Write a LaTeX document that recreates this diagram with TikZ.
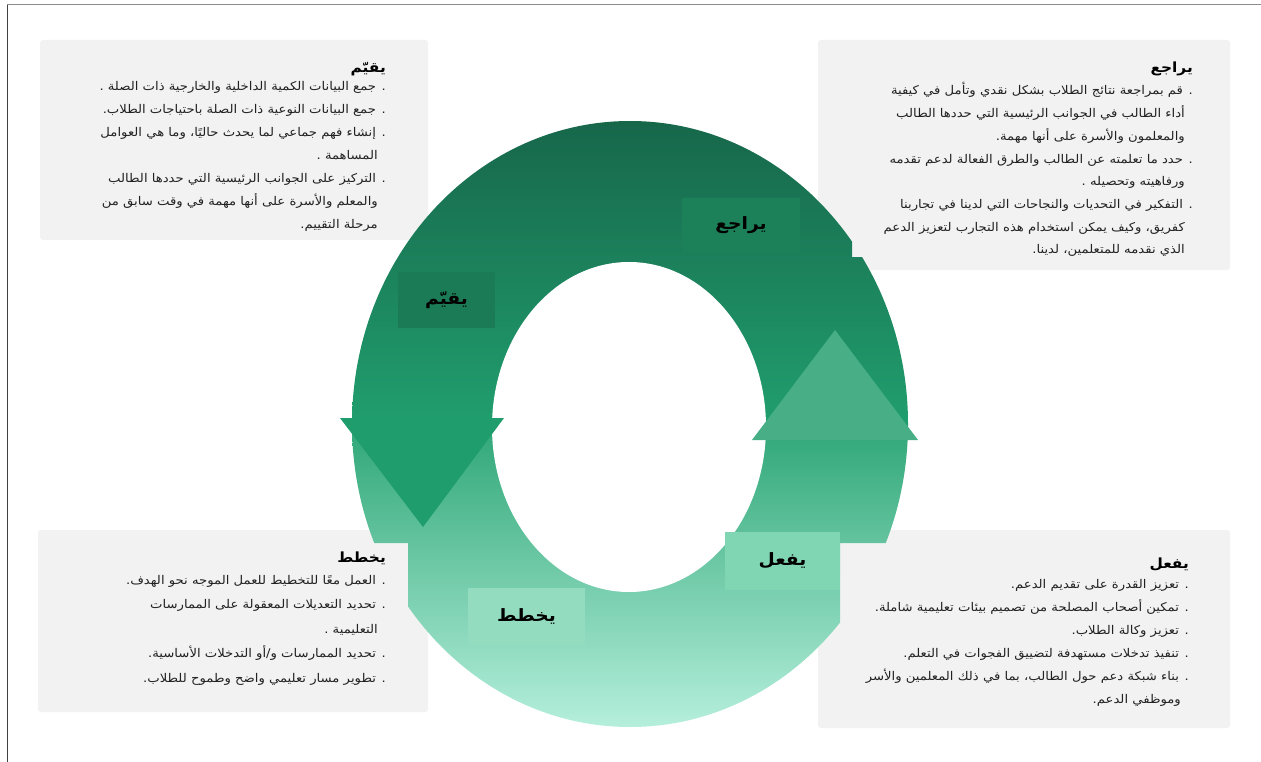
\documentclass[tikz,border=0pt]{standalone}
\usepackage{fontspec}
\newfontfamily\arabicfont[Script=Arabic]{DejaVu Sans}
\newfontfamily\arabicwide[Script=Arabic, FakeStretch=1.1]{DejaVu Sans}
\TeXXeTstate=1
\newcommand{\arl}[1]{\beginR #1\endR}
\definecolor{ringA}{HTML}{17674B}
\definecolor{ringB}{HTML}{21A06F}
\definecolor{ringC}{HTML}{33A97A}
\definecolor{ringD}{HTML}{B5EFDC}
\definecolor{arrowL}{HTML}{1F9D6C}
\definecolor{arrowR}{HTML}{48AE86}
\definecolor{labA}{HTML}{1B7B56}
\definecolor{labB}{HTML}{1C8059}
\definecolor{labC}{HTML}{80D5B3}
\definecolor{labD}{HTML}{93DCC0}
\definecolor{panel}{HTML}{F2F2F2}
\definecolor{txt}{HTML}{222222}
\begin{document}
\begin{tikzpicture}[x=1pt,y=-1pt,
  panelbox/.style={fill=panel, rounded corners=3pt},
  body/.style={font=\arabicwide\fontsize{12}{14}\selectfont, text=txt, inner sep=0pt, anchor=base east},
  title/.style={font=\arabicwide\bfseries\fontsize{14}{16}\selectfont, text=black, inner sep=0pt, anchor=base east},
  lab/.style={font=\arabicwide\bfseries\fontsize{17}{19}\selectfont, text=black, inner sep=0pt}]
\useasboundingbox (0,0) rectangle (1261,762);
\fill[white] (0,0) rectangle (1261,762);
\draw[line width=1.5pt, black!75] (7.5,762) -- (7.5,4.5);
\draw[line width=1pt, black!45] (7,4.5) -- (1261,4.5);
% panels
\path[panelbox] (40,40) rectangle (428,240);
\path[panelbox] (818,40) rectangle (1230,270);
\path[panelbox] (38,530) rectangle (428,712);
\path[panelbox] (818,530) rectangle (1230,728);
% ring
\begin{scope}
  \clip (0,0) -- (852,0) -- (852,257) -- (1261,257) -- (1261,543) -- (840,543) -- (840,762) -- (408,762) -- (408,543) -- (0,543) -- cycle;
  \clip (630,424) ellipse [x radius=278pt, y radius=303pt];
  \shade[top color=ringA, bottom color=ringB] (340,121) rectangle (930,434);
  \shade[top color=ringC, bottom color=ringD] (340,434) rectangle (930,727);
  \fill[white] (629,427) ellipse [x radius=137pt, y radius=165pt];
\end{scope}
% arrowheads
\fill[arrowL] (340,418) -- (504,418) -- (423,527) -- cycle;
\fill[arrowR] (752,440) -- (918,440) -- (835,330) -- cycle;
% ring labels
\node[lab, fill=labA, minimum width=97pt, minimum height=56pt] (lq) at (446.5,300) {\arl{يقيّم}};
\node[lab, fill=labB, minimum width=118pt, minimum height=54pt] (lr) at (741,225) {\arl{يراجع}};
\node[lab, fill=labC, minimum width=115pt, minimum height=58pt] (lf) at (782.5,561) {\arl{يفعل}};
\node[lab, fill=labD, minimum width=117pt, minimum height=57pt] (lk) at (526.5,616.5) {\arl{يخطط}};
% titles
\node[title] (tq) at (386,73) {\arl{يقيّم}};
\node[title] (tr) at (1193,73) {\arl{يراجع}};
\node[title] (tk) at (386,562) {\arl{يخطط}};
\node[title] (tf) at (1189,568) {\arl{يفعل}};
% texts
\foreach \t [count=\i from 0] in {
  {. جمع البيانات الكمية الداخلية والخارجية ذات الصلة .},
  {. جمع البيانات النوعية ذات الصلة باحتياجات الطلاب.},
  {. إنشاء فهم جماعي لما يحدث حاليًا، وما هي العوامل},
  {\hspace*{8pt}المساهمة .},
  {. التركيز على الجوانب الرئيسية التي حددها الطالب},
  {\hspace*{8pt}والمعلم والأسرة على أنها مهمة في وقت سابق من},
  {\hspace*{8pt}مرحلة التقييم.}}
  \node[body] (q\i) at (386,91+\i*23) {\arl{\t}};
\foreach \t [count=\i from 0] in {
  {. قم بمراجعة نتائج الطلاب بشكل نقدي وتأمل في كيفية},
  {\hspace*{8pt}أداء الطالب في الجوانب الرئيسية التي حددها الطالب},
  {\hspace*{8pt}والمعلمون والأسرة على أنها مهمة.},
  {. حدد ما تعلمته عن الطالب والطرق الفعالة لدعم تقدمه},
  {\hspace*{8pt}ورفاهيته وتحصيله .},
  {. التفكير في التحديات والنجاحات التي لدينا في تجاربنا},
  {\hspace*{8pt}كفريق، وكيف يمكن استخدام هذه التجارب لتعزيز الدعم},
  {\hspace*{8pt}الذي نقدمه للمتعلمين، لدينا.}}
  \node[body] (r\i) at (1193,95+\i*22.7) {\arl{\t}};
\foreach \t [count=\i from 0] in {
  {. العمل معًا للتخطيط للعمل الموجه نحو الهدف.},
  {. تحديد التعديلات المعقولة على الممارسات},
  {\hspace*{8pt}التعليمية .},
  {. تحديد الممارسات و/أو التدخلات الأساسية.},
  {. تطوير مسار تعليمي واضح وطموح للطلاب.}}
  \node[body] (k\i) at (386,584+\i*24.5) {\arl{\t}};
\foreach \t [count=\i from 0] in {
  {. تعزيز القدرة على تقديم الدعم.},
  {. تمكين أصحاب المصلحة من تصميم بيئات تعليمية شاملة.},
  {. تعزيز وكالة الطلاب.},
  {. تنفيذ تدخلات مستهدفة لتضييق الفجوات في التعلم.},
  {. بناء شبكة دعم حول الطالب، بما في ذلك المعلمين والأسر},
  {\hspace*{8pt}وموظفي الدعم.}}
  \node[body] (f\i) at (1189,588+\i*23) {\arl{\t}};
\end{tikzpicture}
\end{document}
